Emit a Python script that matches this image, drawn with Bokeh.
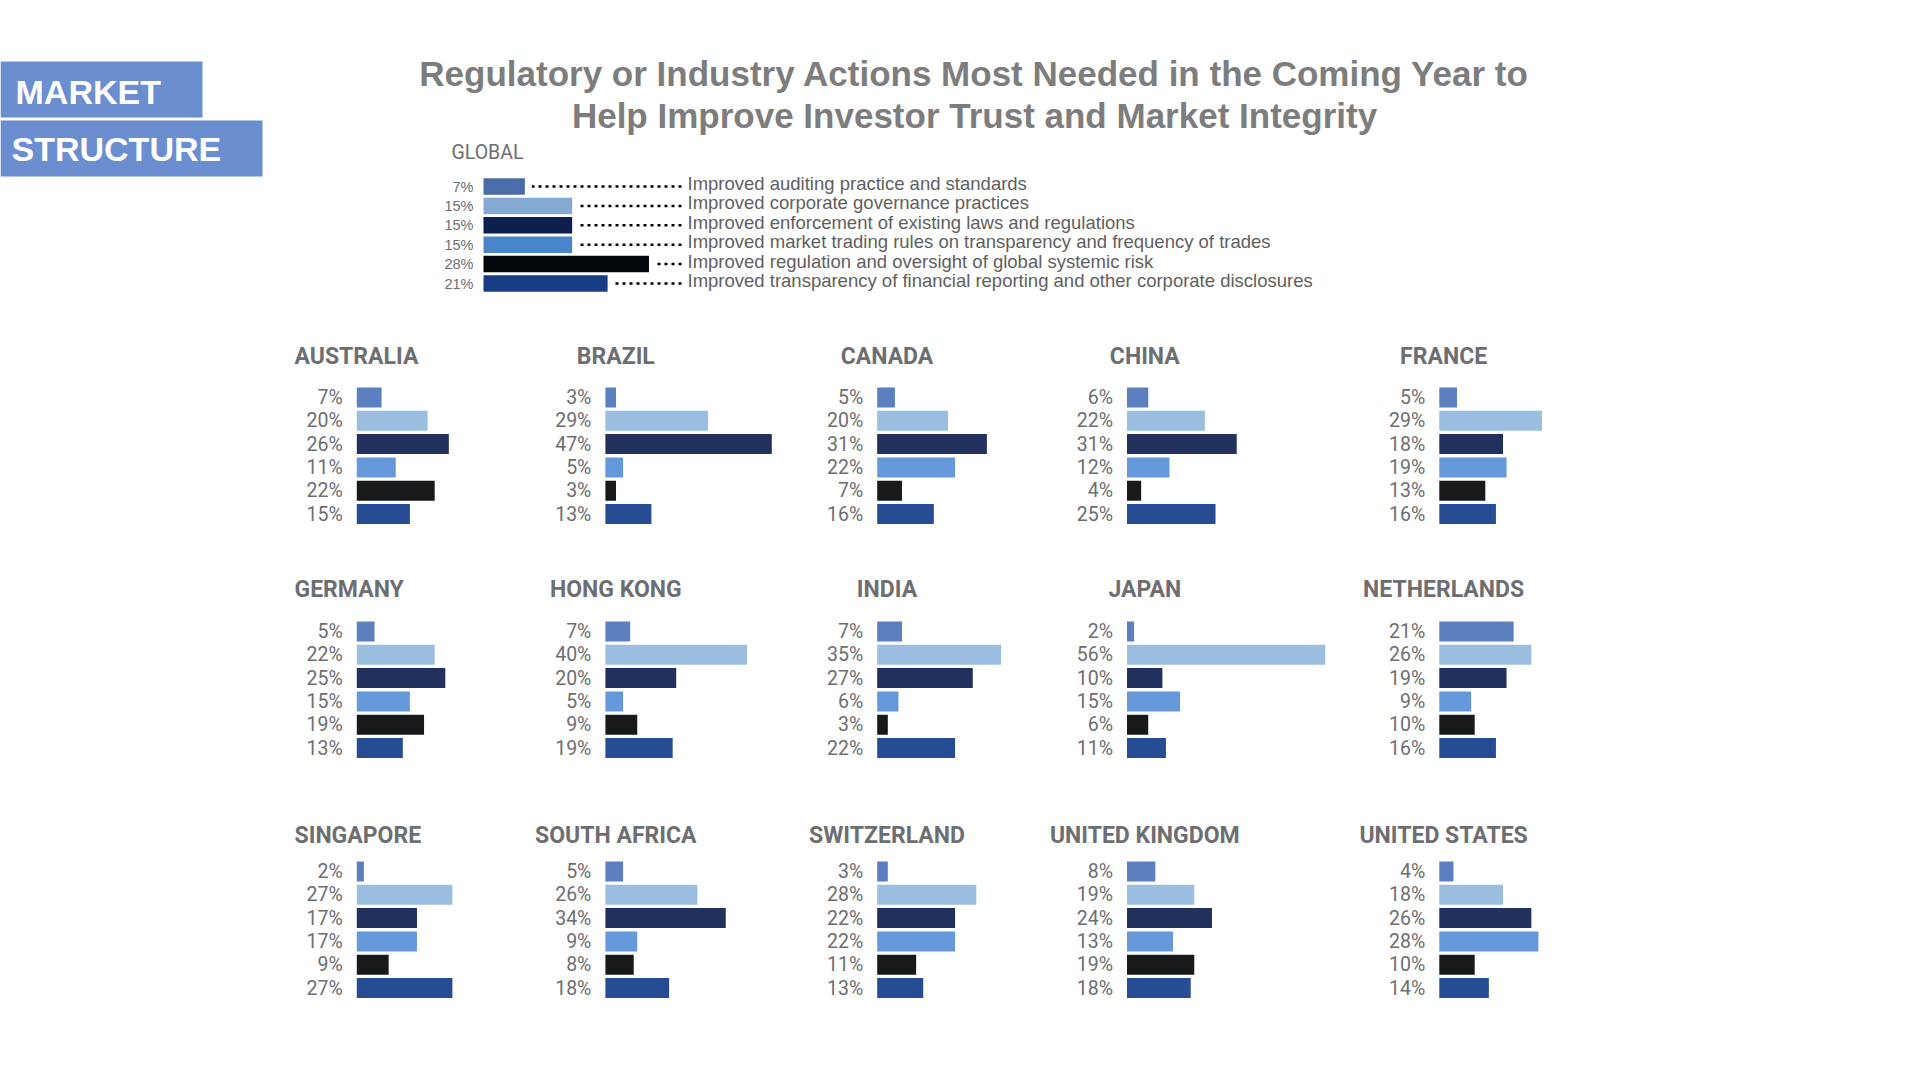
from bokeh.plotting import figure
from bokeh.layouts import row, column
from bokeh.models import Range1d, Spacer, ColumnDataSource
from bokeh.core.properties import value
from bokeh.embed import file_html
from bokeh.resources import INLINE

# ---------------- data ----------------
categories = [
    "Improved auditing practice and standards",
    "Improved corporate governance practices",
    "Improved enforcement of existing laws and regulations",
    "Improved market trading rules on transparency and frequency of trades",
    "Improved regulation and oversight of global systemic risk",
    "Improved transparency of financial reporting and other corporate disclosures",
]
global_values = [7, 15, 15, 15, 28, 21]

australia = [7, 20, 26, 11, 22, 15]
brazil = [3, 29, 47, 5, 3, 13]
canada = [5, 20, 31, 22, 7, 16]
china = [6, 22, 31, 12, 4, 25]
france = [5, 29, 18, 19, 13, 16]
germany = [5, 22, 25, 15, 19, 13]
hong_kong = [7, 40, 20, 5, 9, 19]
india = [7, 35, 27, 6, 3, 22]
japan = [2, 56, 10, 15, 6, 11]
netherlands = [21, 26, 19, 9, 10, 16]
singapore = [2, 27, 17, 17, 9, 27]
south_africa = [5, 26, 34, 9, 8, 18]
switzerland = [3, 28, 22, 22, 11, 13]
united_kingdom = [8, 19, 24, 13, 19, 18]
united_states = [4, 18, 26, 28, 10, 14]

country_names = [
    ["AUSTRALIA", "BRAZIL", "CANADA", "CHINA", "FRANCE"],
    ["GERMANY", "HONG KONG", "INDIA", "JAPAN", "NETHERLANDS"],
    ["SINGAPORE", "SOUTH AFRICA", "SWITZERLAND", "UNITED KINGDOM", "UNITED STATES"],
]
country_values = [
    [australia, brazil, canada, china, france],
    [germany, hong_kong, india, japan, netherlands],
    [singapore, south_africa, switzerland, united_kingdom, united_states],
]

title_lines = [
    "Regulatory or Industry Actions Most Needed in the Coming Year to",
    "Help Improve Investor Trust and Market Integrity",
]
section_words = ["MARKET", "STRUCTURE"]
global_label = "GLOBAL"

# ---------------- style ----------------
country_colors = ["#5b7fbf", "#9bbde0", "#22305d", "#6699d9", "#18191b", "#264c93"]
global_colors = ["#4a6ca9", "#87aad5", "#0c1f4f", "#4a85c9", "#04080d", "#183d82"]
BOX_COLOR = "#6b8ed1"
GREY = "#6d6e71"
TITLE_GREY = "#7d7d7d"
SANS = "Liberation Sans"
DIN = "Roboto"


def blank(width, height, x_range, y_range):
    p = figure(width=width, height=height, x_range=x_range, y_range=y_range,
               output_backend="svg", toolbar_location=None, min_border=0,
               x_axis_location=None, y_axis_location=None,
               outline_line_color=None, background_fill_color="white",
               border_fill_color="white")
    p.grid.visible = False
    return p


HEADER_H = 308
LEFT_W = 400
RIGHT_W = 1512

# ---------------- header: section boxes ----------------
left_fig = blank(LEFT_W, HEADER_H, Range1d(0, LEFT_W), Range1d(HEADER_H, 0))
left_fig.quad(left=[0, 0], right=[202, 262], top=[61, 120], bottom=[117, 176],
              fill_color=BOX_COLOR, line_color=None)
left_fig.text(x=[15, 11], y=[91, 148], text=section_words, text_align="left",
              text_baseline="middle", text_font=value(SANS), text_font_style="bold",
              text_font_size="34px", text_color="white")

# ---------------- header: title ----------------
TITLE_H = 140
title_fig = blank(RIGHT_W, TITLE_H, Range1d(0, RIGHT_W), Range1d(TITLE_H, 0))
title_fig.text(x=[574, 574], y=[73, 115], text=title_lines, text_align="center",
               text_baseline="middle", text_font=value(SANS), text_font_style="bold",
               text_font_size="35px", text_color=TITLE_GREY)

# ---------------- global chart ----------------
G_PX = 5.91      # px per percent
G_ROW = 19.4     # px per row
G_BASE = 83      # px from fig left to bar baseline
G_FIRST = 46     # px from fig top to first row centre
G_W, G_H = RIGHT_W, HEADER_H - TITLE_H
LEGEND_X = (287 - G_BASE) / G_PX

gfig = blank(G_W, G_H,
             Range1d(-G_BASE / G_PX, (G_W - G_BASE) / G_PX),
             Range1d((G_H - G_FIRST) / G_ROW, -G_FIRST / G_ROW))
gsrc = ColumnDataSource(dict(
    y=list(range(len(categories))), v=global_values, c=global_colors,
    lab=[f"{v}%" for v in global_values], cat=categories,
    dot_start=[v + 7 / G_PX for v in global_values],
    dot_end=[LEGEND_X - 6 / G_PX] * len(categories),
    tx=[LEGEND_X] * len(categories),
))
gfig.hbar(y="y", left=0, right="v", height=0.85, fill_color="c", line_color=None, source=gsrc)
gfig.segment(x0="dot_end", y0="y", x1="dot_start", y1="y", line_color="black",
             line_width=2.5, line_dash="3 4", source=gsrc)
gfig.text(x=0, y="y", text="lab", x_offset=-10, text_align="right", text_baseline="middle",
          text_font=value(SANS), text_font_size="14.5px", text_color=GREY, source=gsrc)
gfig.text(x="tx", y="y", text="cat", y_offset=-3, text_align="left", text_baseline="middle",
          text_font=value(SANS), text_font_size="18.5px", text_color="#606060", source=gsrc)
gfig.text(x=[0], y=[(12 - G_FIRST) / G_ROW], text=[global_label], x_offset=-32,
          text_align="left", text_baseline="middle", text_font=value(DIN),
          text_font_size="19.5px", text_color=GREY)

# ---------------- country panels ----------------
C_PX = 3.54
C_ROW = 23.3
col_widths = [229, 272, 250, 312, 573]
col_base = [80.3, 99.9, 99.7, 99.5, 99.8]
col_title_dx = [-62.3, 10.4, 9.8, 17.8, 4.3]
col_title_align = ["left", "center", "center", "center", "center"]
band_heights = [237, 245, 282]
band_first = [89, 86, 81]
band_title = [48.3, 44, 45]
grid_offset = 276


def country_panel(name, vals, width, height, base, first, title_y, title_dx, title_align):
    p = blank(width, height,
              Range1d(-base / C_PX, (width - base) / C_PX),
              Range1d((height - first) / C_ROW, -first / C_ROW))
    src = ColumnDataSource(dict(y=list(range(len(vals))), v=vals, c=country_colors,
                                lab=[f"{v}%" for v in vals]))
    p.hbar(y="y", left=0, right="v", height=0.86, fill_color="c", line_color=None, source=src)
    p.text(x=0, y="y", text="lab", x_offset=-14, text_align="right", text_baseline="middle",
           text_font=value(DIN), text_font_size="19.5px", text_color=GREY, source=src)
    p.text(x=[0], y=[(title_y - first) / C_ROW], text=[name], x_offset=title_dx,
           text_align=title_align, text_baseline="middle", text_font=value(DIN),
           text_font_style="bold", text_font_size="23px", text_color=GREY)
    return p


grid_rows = []
for r in range(3):
    panels = [Spacer(width=grid_offset, height=band_heights[r])]
    for c in range(5):
        panels.append(country_panel(country_names[r][c], country_values[r][c],
                                    col_widths[c], band_heights[r], col_base[c],
                                    band_first[r], band_title[r], col_title_dx[c],
                                    col_title_align[c]))
    grid_rows.append(row(*panels))

layout = column(row(left_fig, column(title_fig, gfig)), *grid_rows)

open("out.html", "w").write(file_html(layout, INLINE))
